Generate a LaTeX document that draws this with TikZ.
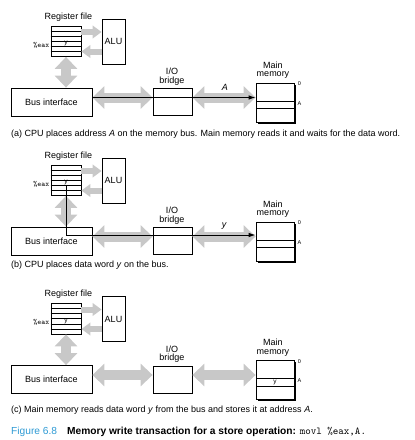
\documentclass[tikz,border=0pt]{standalone}
\usepackage{fontspec}
\setmainfont{Liberation Sans}
\usetikzlibrary{arrows.meta,calc,shadows}
\definecolor{arrowgray}{RGB}{200,200,200}
\definecolor{figblue}{RGB}{46,154,212}
\begin{document}
\begin{tikzpicture}[x=1pt,y=-1pt,
  box/.style={draw,line width=0.8pt,fill=white,inner sep=0pt},
  lbl/.style={inner sep=0pt,font=\fontsize{9}{10}\selectfont},
  captext/.style={anchor=west,inner sep=0pt,font=\fontsize{9}{10}\selectfont},
  bigarrow/.style={draw=arrowgray,line width=10pt,{Triangle[length=12pt,width=22pt]}-{Triangle[length=12pt,width=22pt]}},
  smallarrow/.style={draw=arrowgray,line width=6pt,-{Triangle[length=9pt,width=12.5pt]}},
  dataline/.style={draw=black,line width=0.9pt,-{Latex[length=7pt,width=4.5pt]}},
  tinylbl/.style={inner sep=0pt,font=\fontsize{5.5}{6}\selectfont},
  celltext/.style={inner sep=0pt,font=\fontsize{6.5}{7}\selectfont},
  memshadow/.style={drop shadow={shadow xshift=1.6pt,shadow yshift=-1.6pt,fill=black,opacity=1}},
]
\useasboundingbox (0,0) rectangle (415,440);
\foreach \p/\dy in {a/0,b/139,c/277.5} {
\begin{scope}[yshift=-\dy pt]
  \node[lbl] (rf\p) at (68.5,17) {Register file};
  \node[box,minimum width=30pt,minimum height=30.5pt] (reg\p) at (66,41.25) {};
  \foreach \i in {1,...,5}
    \draw[line width=0.6pt] ($(reg\p.north west)!\i/6!(reg\p.south west)$) -- ($(reg\p.north east)!\i/6!(reg\p.south east)$);
  \node[inner sep=0pt,minimum width=30pt,minimum height=5.08pt] (eax\p) at (66,43.8) {};
  \node[celltext] (ey\p) at (eax\p) {y};
  \node[inner sep=0pt,anchor=east,font=\ttfamily\fontsize{7.5}{8}\selectfont] (el\p) at (49.5,45) {\%eax};
  \node[box,lbl,minimum width=23pt,minimum height=45pt] (alu\p) at (113.5,41.5) {ALU};
  \node[box,lbl,minimum width=81pt,minimum height=28pt] (bus\p) at (51.5,102) {Bus interface};
  \node[box,minimum width=39pt,minimum height=27pt] (br\p) at (172.5,102.2) {};
  \node[lbl] (io\p) at (172,71.7) {I/O};
  \node[lbl] (bl\p) at (172,81) {bridge};
  \node[box,memshadow,minimum width=38pt,minimum height=39pt] (mem\p) at (275,102.5) {};
  \node[draw,line width=0.6pt,inner sep=0pt,minimum width=38pt,minimum height=7.3pt] (cell\p) at (275,104.65) {};
  \node[lbl] (mm\p) at (273,65) {Main};
  \node[lbl] (mo\p) at (273,75.5) {memory};
  \node[tinylbl] (z\p) at (299.5,84) {0};
  \node[tinylbl] (aa\p) at (299.5,103.5) {A};
  \coordinate (lv\p) at (0,97.5);
  \coordinate (dl\p) at (0,96);
  \coordinate (up\p) at (0,32);
  \coordinate (lo\p) at (0,51.5);
  \draw[bigarrow] (bus\p.east |- lv\p) -- (br\p.west |- lv\p);
  \draw[bigarrow] (br\p.east |- lv\p) -- (mem\p.west |- lv\p);
  \draw[bigarrow] (reg\p.south) -- (reg\p.south |- bus\p.north);
  \draw[smallarrow] (reg\p.east |- up\p) -- (alu\p.west |- up\p);
  \draw[smallarrow] (alu\p.west |- lo\p) -- (reg\p.east |- lo\p);
\end{scope}
}
% panel (a)
\draw[dataline] (busa.east |- lva) -- (mema.west |- lva);
\node[lbl,font=\fontsize{9}{10}\selectfont\itshape] (la) at (225,87) {A};
% panel (b)
\draw[dataline] (eaxb.south) -- (eaxb.south |- dlb) -- (memb.west |- dlb);
\node[lbl,font=\fontsize{9}{10}\selectfont\itshape] (lb) at (224,226.5) {y};
% panel (c)
\node[celltext] (yc) at (cellc) {y};
% captions
\node[captext] (capa) at (11,134.5) {(a) CPU places address \textit{A} on the memory bus. Main memory reads it and waits for the data word.};
\node[captext] (capb) at (11,265) {(b) CPU places data word \textit{y} on the bus.};
\node[captext] (capc) at (11,410.5) {(c) Main memory reads data word \textit{y} from the bus and stores it at address \textit{A}.};
\node[captext,font=\fontsize{10.2}{11}\selectfont] (fig) at (11,431.5) {\textcolor{figblue}{Figure 6.8}\hspace{10pt}\textbf{Memory write transaction for a store operation:} {\ttfamily\fontsize{10.5}{11}\selectfont movl \%eax,A.}};
\end{tikzpicture}
\end{document}
